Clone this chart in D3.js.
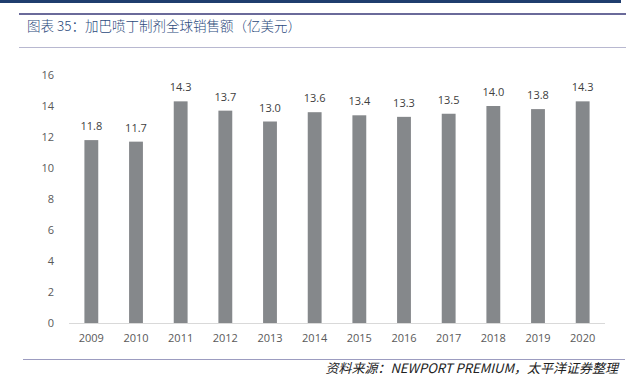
<!DOCTYPE html>
<html>
<head>
<meta charset="utf-8">
<script src="https://cdn.jsdelivr.net/npm/d3@7"></script>
<style>
  body { margin: 0; background: #fff; }
  svg { display: block; }
</style>
</head>
<body>
<svg id="chart"></svg>
<script>
// Data
const years = ['2009', '2010', '2011', '2012', '2013', '2014', '2015', '2016', '2017', '2018', '2019', '2020'];
const sales = [11.8, 11.7, 14.3, 13.7, 13.0, 13.6, 13.4, 13.3, 13.5, 14.0, 13.8, 14.3];
const yTicks = [0, 2, 4, 6, 8, 10, 12, 14, 16];

const width = 635, height = 382;
const plot = { left: 69, right: 605, top: 75, bottom: 323 };
const font = '"Open Sans", "Noto Sans", sans-serif';
const cjk = '"Noto Sans CJK SC", sans-serif';

const svg = d3.select('#chart').attr('width', width).attr('height', height);

// Page decoration
svg.append('rect').attr('x', 0).attr('y', 0).attr('width', 621).attr('height', 3).attr('fill', '#1f3d6e');
svg.append('rect').attr('x', 19).attr('y', 13).attr('width', 607).attr('height', 2).attr('fill', '#6a6a9a');
svg.append('rect').attr('x', 19).attr('y', 47).attr('width', 607).attr('height', 1).attr('fill', '#b8b8d0');
svg.append('rect').attr('x', 23).attr('y', 359).attr('width', 602).attr('height', 1).attr('fill', '#9c9cc0');

svg.append('text')
    .attr('x', 27).attr('y', 31)
    .attr('font-family', cjk).attr('font-size', 13.5)
    .attr('font-weight', 300)
    .attr('fill', '#2b4a7c')
    .text('图表 35：加巴喷丁制剂全球销售额（亿美元）');

svg.append('text')
    .attr('x', 618).attr('y', 373)
    .attr('text-anchor', 'end')
    .attr('font-family', cjk).attr('font-size', 13)
    .attr('font-style', 'italic')
    .attr('fill', '#222')
    .text('资料来源：NEWPORT PREMIUM，太平洋证券整理');

// Scales
const x = d3.scaleBand().domain(years).range([plot.left, plot.right]).paddingInner(0.69).paddingOuter(0.345);
const y = d3.scaleLinear().domain([0, 16]).range([plot.bottom, plot.top]);

// Y axis labels
svg.append('g').selectAll('text')
    .data(yTicks)
    .enter()
    .append('text')
    .attr('x', 54)
    .attr('y', d => y(d))
    .attr('dy', '0.35em')
    .attr('text-anchor', 'end')
    .attr('font-family', font).attr('font-size', 11)
    .attr('fill', '#595959')
    .text(d => d);

// Bars
svg.append('g').selectAll('rect')
    .data(sales)
    .enter()
    .append('rect')
    .attr('x', (d, i) => x(years[i]))
    .attr('y', d => y(d))
    .attr('width', x.bandwidth())
    .attr('height', d => y(0) - y(d))
    .attr('fill', '#85888b');

// Baseline
svg.append('line')
    .attr('x1', plot.left).attr('x2', plot.right)
    .attr('y1', y(0) + 0.5).attr('y2', y(0) + 0.5)
    .attr('stroke', '#d9d9d9').attr('stroke-width', 1);

// Value labels
svg.append('g').selectAll('text')
    .data(sales)
    .enter()
    .append('text')
    .attr('x', (d, i) => x(years[i]) + x.bandwidth() / 2)
    .attr('y', d => y(d) - 10)
    .attr('text-anchor', 'middle')
    .attr('font-family', font).attr('font-size', 11)
    .attr('fill', '#404040')
    .text(d => d.toFixed(1));

// X axis labels
svg.append('g').selectAll('text')
    .data(years)
    .enter()
    .append('text')
    .attr('x', d => x(d) + x.bandwidth() / 2)
    .attr('y', 342)
    .attr('text-anchor', 'middle')
    .attr('font-family', font).attr('font-size', 11)
    .attr('fill', '#595959')
    .text(d => d);
</script>
</body>
</html>
